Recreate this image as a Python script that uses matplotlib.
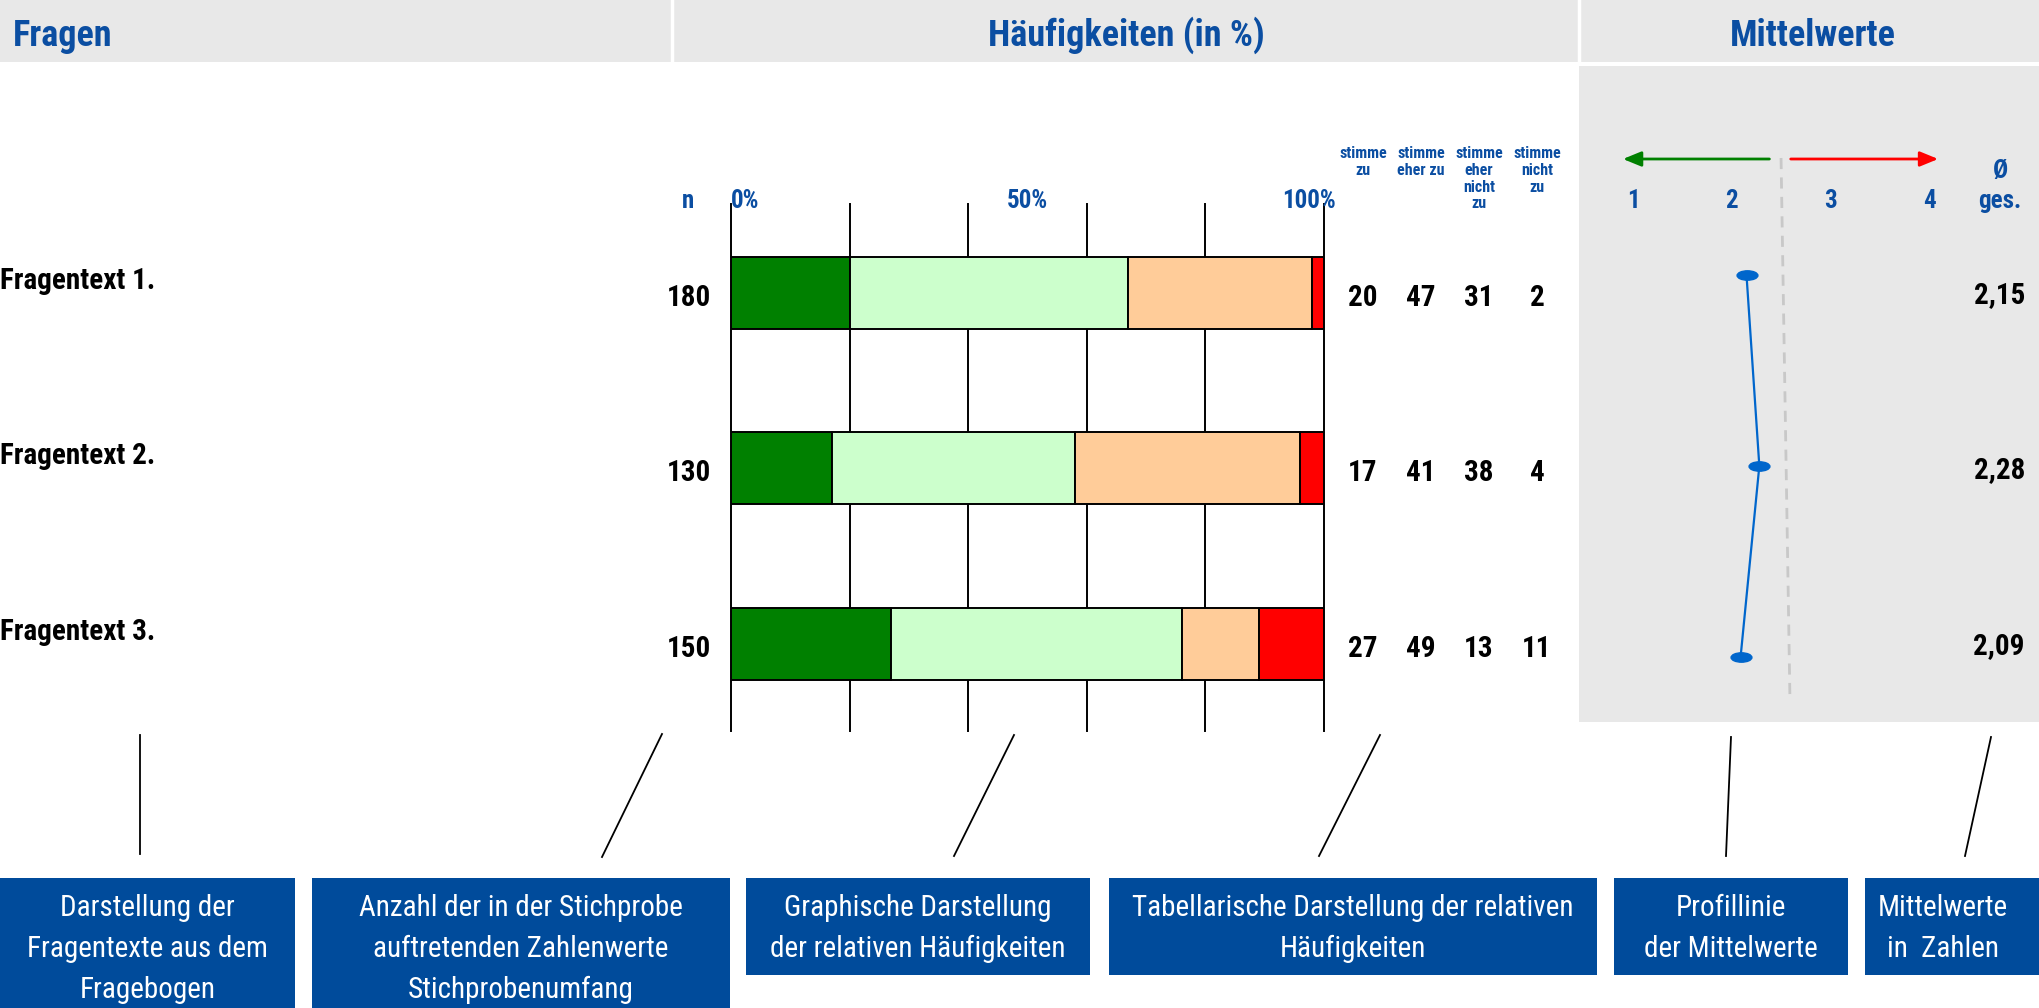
import matplotlib.pyplot as plt
import matplotlib.transforms as mtransforms
from matplotlib import font_manager
from matplotlib.patches import Rectangle
from matplotlib.path import Path

# === Data ===
questions = ["Fragentext 1.", "Fragentext 2.", "Fragentext 3."]
n_values = [180, 130, 150]
categories = ["stimme\nzu", "stimme\neher zu", "stimme\neher\nnicht\nzu", "stimme\nnicht\nzu"]
pct_zu = [20, 17, 27]
pct_eher_zu = [47, 41, 49]
pct_eher_nicht = [31, 38, 13]
pct_nicht = [2, 4, 11]
means = [2.15, 2.28, 2.09]
scale_labels = ["1", "2", "3", "4"]
box_texts = [
    "Darstellung der\nFragentexte aus dem\nFragebogen",
    "Anzahl der in der Stichprobe\nauftretenden Zahlenwerte\nStichprobenumfang",
    "Graphische Darstellung\nder relativen Häufigkeiten",
    "Tabellarische Darstellung der relativen\nHäufigkeiten",
    "Profillinie\nder Mittelwerte",
    "Mittelwerte\nin  Zahlen",
]

# === Font: pick a narrow sans with static bold + regular files ===
def has_static(name):
    ws = {f.weight for f in font_manager.fontManager.ttflist
          if f.name == name and '[' not in f.fname and 'talic' not in f.fname}
    return 700 in ws and 400 in ws

FONT = 'Liberation Sans'
for cand in ['Liberation Sans Narrow', 'Roboto Condensed', 'Archivo Narrow', 'PT Sans Narrow',
             'Arimo Narrow', 'Barlow Semi Condensed', 'Asap Condensed']:
    if has_static(cand):
        FONT = cand
        break
plt.rcParams['font.family'] = [FONT, 'DejaVu Sans']

BLUE_TXT = '#0B4EA2'
BLUE_BOX = '#004B9B'
GREY = '#E8E8E8'
bar_colors = ['#008000', '#CCFFCC', '#FFCC99', '#FF0000']

W, H = 2039, 1008
fig = plt.figure(figsize=(W / 100, H / 100), dpi=100)


def px_axes(x0, y0, x1, y1, **kw):
    return fig.add_axes([x0 / W, 1 - y1 / H, (x1 - x0) / W, (y1 - y0) / H], **kw)


# overlay in pixel coords
ov = px_axes(0, 0, W, H)
ov.set_xlim(0, W)
ov.set_ylim(H, 0)
ov.axis('off')
ov.set_zorder(0)

# === Header band ===
ov.add_patch(Rectangle((0, 0), W, 62, color=GREY, lw=0))
for sx in [672, 1579]:
    ov.plot([sx, sx], [0, 62], color='white', lw=2.5)
ov.text(13, 46, "Fragen", fontsize=26, fontweight='bold', color=BLUE_TXT, va='baseline', ha='left')
ov.text(1126, 46, "Häufigkeiten (in %)", fontsize=26, fontweight='bold', color=BLUE_TXT, va='baseline', ha='center')
ov.text(1813, 46, "Mittelwerte", fontsize=26, fontweight='bold', color=BLUE_TXT, va='baseline', ha='center')

# === Profile of means (grey panel) ===
pa = px_axes(1579, 66, W, 722)
pa.set_zorder(1)
pa.set_facecolor(GREY)
pa.set_xlim(1 - (1633 - 1579) / 98.7, 1 + (W - 1633) / 98.7)
pa.set_ylim(2 + (722 - 657) / 191, -(275 - 66) / 191)
pa.set_xticks([])
pa.set_yticks([])
for s in pa.spines.values():
    s.set_visible(False)

# === Bar chart ===
ax = px_axes(731, 204, 1324, 731)
ax.set_zorder(2)
ax.patch.set_alpha(0)
ax.set_xlim(0, 100)
ax.set_ylim(2.496, -0.507)
ax.axis('off')
rows = list(range(len(questions)))
for gx in range(0, 101, 20):
    ax.axvline(gx, color='black', lw=1.4, zorder=0, clip_on=False)

left = [0, 0, 0]
for vals, col in zip([pct_zu, pct_eher_zu, pct_eher_nicht, pct_nicht], bar_colors):
    ax.barh(rows, vals, left=left, height=0.41, color=col, edgecolor='black', lw=1.4, zorder=3)
    left = [l + v for l, v in zip(left, vals)]

tr = mtransforms.blended_transform_factory(ov.transData, ax.transData)
tr_top = mtransforms.blended_transform_factory(ax.transData, ov.transData)
row_px = 175.5  # pixels per row

ax.text(0, 208, "0%", transform=tr_top, fontsize=18, fontweight='bold', color=BLUE_TXT, ha='left', va='baseline')
ax.text(50, 208, "50%", transform=tr_top, fontsize=18, fontweight='bold', color=BLUE_TXT, ha='center', va='baseline')
ax.text(102, 208, "100%", transform=tr_top, fontsize=18, fontweight='bold', color=BLUE_TXT, ha='right', va='baseline')
ov.text(688, 208, "n", fontsize=18, fontweight='bold', color=BLUE_TXT, ha='center', va='baseline')

col_x = [1363, 1421, 1479, 1537]
for cx, cat in zip(col_x, categories):
    ov.text(cx, 146, cat, fontsize=11.5, fontweight='bold', color=BLUE_TXT, ha='center', va='top', linespacing=1.15)

for i, r in enumerate(rows):
    off = 13 / row_px
    ax.text(0, r - 4 / row_px, questions[i], transform=tr, fontsize=21, fontweight='bold', ha='left', va='baseline')
    ax.text(711, r + off, str(n_values[i]), transform=tr, fontsize=21, fontweight='bold', ha='right', va='baseline')
    for cx, vals in zip(col_x, [pct_zu, pct_eher_zu, pct_eher_nicht, pct_nicht]):
        ax.text(cx, r + off, str(vals[i]), transform=tr, fontsize=21, fontweight='bold', ha='center', va='baseline')
    ax.text(2025, r + 10 / row_px, f"{means[i]:.2f}".replace('.', ','), transform=tr,
            fontsize=21, fontweight='bold', ha='right', va='baseline')

ptr = mtransforms.blended_transform_factory(pa.transData, ov.transData)
for k, lab in enumerate(scale_labels):
    pa.text(k + 1, 208, lab, transform=ptr, fontsize=18, fontweight='bold', color=BLUE_TXT, ha='center', va='baseline')
pa.text(2000, 178, "Ø", transform=ov.transData, fontsize=18, fontweight='bold', color=BLUE_TXT, ha='center', va='baseline')
pa.text(2000, 208, "ges.", transform=ov.transData, fontsize=18, fontweight='bold', color=BLUE_TXT, ha='center', va='baseline')

pa.annotate("", xy=(0.87, 159), xytext=(2.41, 159), xycoords=ptr, textcoords=ptr,
            arrowprops=dict(arrowstyle='-|>,head_length=1.1,head_width=0.45', color='#008000', lw=2))
pa.annotate("", xy=(4.12, 159), xytext=(2.57, 159), xycoords=ptr, textcoords=ptr,
            arrowprops=dict(arrowstyle='-|>,head_length=1.1,head_width=0.45', color='#FF0000', lw=2))
pa.plot([2.5, 2.59], [158, 698], transform=ptr, color='#C8C8C8', lw=2, ls=(0, (4, 3)))

ellipse = Path.unit_circle().transformed(mtransforms.Affine2D().scale(1, 0.45))
pa.plot(means, rows, color='#0066CC', lw=1.6, marker=ellipse, markersize=15,
        markerfacecolor='#0066CC', markeredgecolor='#0066CC')

# === Connector lines ===
connectors = [((140, 735), (140, 854)), ((662, 734), (602, 857)), ((1014, 735), (954, 856)),
              ((1380, 735), (1319, 856)), ((1731, 737), (1726, 856)), ((1991, 737), (1965, 856))]
for (x0, y0), (x1, y1) in connectors:
    ov.plot([x0, x1], [y0, y1], color='black', lw=1.3)

# === Explanation boxes ===
boxes = [(0, 295, 1008), (312, 730, 1008), (746, 1090, 975), (1109, 1597, 975), (1614, 1848, 975), (1865, 2039, 975)]
for (bx0, bx1, by1), txt in zip(boxes, box_texts):
    ov.add_patch(Rectangle((bx0, 878), bx1 - bx0, by1 - 878, color=BLUE_BOX, lw=0))
    cx = (bx0 + bx1) / 2 if bx1 < W else 1943
    ov.text(cx, 894, txt, fontsize=21, color='white', ha='center', va='top', linespacing=1.58)

plt.savefig("out.png", dpi=100)
plt.close()
